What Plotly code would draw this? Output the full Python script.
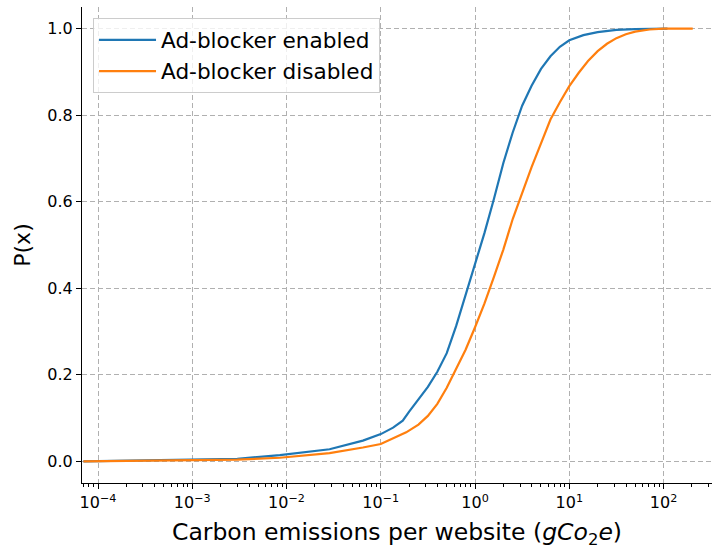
import plotly.graph_objects as go

# Ad-blocker enabled (blue)
x_enabled = [7e-5, 1e-4, 1e-3, 3e-3, 8.5e-3, 0.0286, 0.0646, 0.1, 0.135, 0.171, 0.2, 0.251,
             0.316, 0.398, 0.501, 0.631, 0.794, 1.0, 1.26, 1.58, 2.0, 2.51, 3.16, 3.98, 5.01,
             6.31, 7.94, 10, 14.1, 20, 31.6, 50, 100, 110]
y_enabled = [0.0, 0.0005, 0.003, 0.006, 0.0145, 0.028, 0.048, 0.063, 0.078, 0.094, 0.115, 0.142,
             0.172, 0.207, 0.250, 0.313, 0.385, 0.455, 0.528, 0.605, 0.69, 0.76, 0.822, 0.868, 0.907,
             0.936, 0.958, 0.973, 0.985, 0.992, 0.997, 0.999, 1.0, 1.0]

# Ad-blocker disabled (orange)
x_disabled = [7e-5, 1e-4, 1e-3, 3e-3, 8.5e-3, 0.0286, 0.0646, 0.1, 0.186, 0.251, 0.316, 0.398,
              0.501, 0.631, 0.794, 1.0, 1.26, 1.58, 2.0, 2.51, 3.16, 3.98, 5.01, 6.31, 7.94,
              10, 12.6, 15.8, 20, 25.1, 31.6, 39.8, 50, 70.8, 100, 204]
y_disabled = [0.0, 0.0003, 0.002, 0.004, 0.0083, 0.019, 0.032, 0.040, 0.067, 0.085, 0.105, 0.133,
              0.170, 0.213, 0.258, 0.31, 0.365, 0.425, 0.49, 0.56, 0.622, 0.68, 0.735, 0.79, 0.83,
              0.867, 0.898, 0.925, 0.948, 0.965, 0.978, 0.987, 0.993, 0.998, 1.0, 1.0]

x_tickvals = [1e-4, 1e-3, 1e-2, 1e-1, 1, 10, 100]
x_ticktext = ["10<sup>−4</sup>", "10<sup>−3</sup>", "10<sup>−2</sup>", "10<sup>−1</sup>",
              "10<sup>0</sup>", "10<sup>1</sup>", "10<sup>2</sup>"]
y_tickvals = [0.0, 0.2, 0.4, 0.6, 0.8, 1.0]

FONT = "DejaVu Sans"

fig = go.Figure()
fig.add_trace(go.Scatter(x=x_enabled, y=y_enabled, mode="lines", name="Ad-blocker enabled",
                         line=dict(color="#1f77b4", width=2.2)))
fig.add_trace(go.Scatter(x=x_disabled, y=y_disabled, mode="lines", name="Ad-blocker disabled",
                         line=dict(color="#ff7f0e", width=2.2)))

fig.update_layout(
    width=712, height=549,
    margin=dict(l=82, r=0, t=7, b=66),
    paper_bgcolor="white", plot_bgcolor="white",
    font=dict(family=FONT, size=16, color="black"),
    showlegend=True,
    legend=dict(x=0.0175, y=0.976, xanchor="left", yanchor="top",
                bgcolor="rgba(255,255,255,0.8)", bordercolor="#cccccc", borderwidth=1,
                font=dict(family=FONT, size=21.6), itemwidth=57, tracegroupgap=0),
)

fig.update_xaxes(
    type="log", range=[-4.170, 2.514],
    tickvals=x_tickvals, ticktext=x_ticktext,
    ticks="outside", ticklen=5, tickwidth=1, tickcolor="black",
    showline=True, linecolor="black", linewidth=1.1, mirror=False,
    showgrid=True, gridcolor="#b0b0b0", gridwidth=1, griddash="5px,3px",
    zeroline=False,
    tickfont=dict(family=FONT, size=16),
    minor=dict(ticks="outside", ticklen=3, tickwidth=0.8, tickcolor="black", showgrid=False,
               dtick="D1"),
    title=dict(text="Carbon emissions per website (<i>gCo</i><sub>2</sub><i>e</i>)",
               font=dict(family=FONT, size=23.5), standoff=15),
)
fig.update_yaxes(
    range=[-0.05, 1.05],
    tickvals=y_tickvals, tickformat=".1f",
    ticks="outside", ticklen=5, tickwidth=1, tickcolor="black",
    showline=True, linecolor="black", linewidth=1.1, mirror=False,
    showgrid=True, gridcolor="#b0b0b0", gridwidth=1, griddash="5px,3px",
    zeroline=False,
    tickfont=dict(family=FONT, size=16),
    title=dict(text="P(x)", font=dict(family=FONT, size=22), standoff=10),
)

fig.write_html("out.html")
